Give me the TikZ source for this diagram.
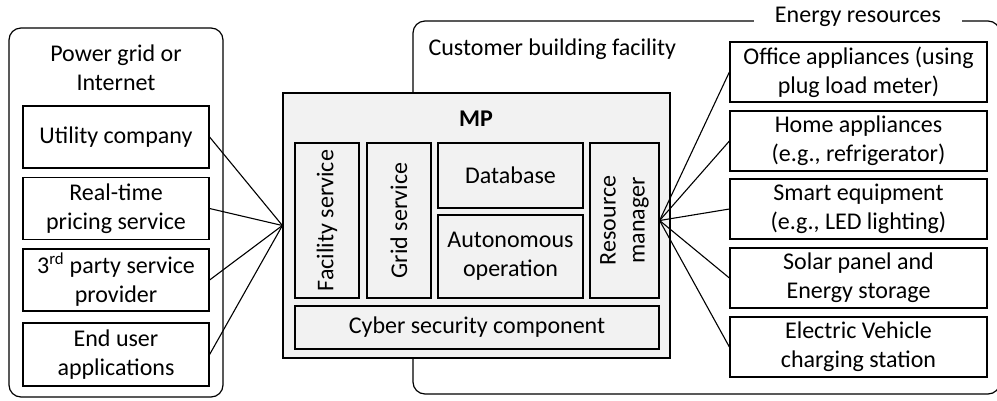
\documentclass[tikz,border=0pt]{standalone}
\usepackage{fontspec}
\setmainfont{Carlito}
\definecolor{panel}{HTML}{F2F2F2}
\begin{document}
\begin{tikzpicture}[x=1pt,y=-1pt,line width=1.2pt,
  font=\fontsize{24}{29}\selectfont,
  blk/.style={draw, fill=white, align=center, inner sep=0pt},
  inblk/.style={draw, fill=panel, align=center, inner sep=0pt},
  lbl/.style={inner sep=0pt, align=center},
  link/.style={line width=1.1pt}]
\useasboundingbox (0,0) rectangle (997,400);

% outer groups
\draw[rounded corners=12pt] (413,21) rectangle (1000,394);
\node[fill=white, inner xsep=21pt, inner ysep=1pt, anchor=base] (er) at (858,22) {Energy resources};
\node[lbl, anchor=base west] (cbf) at (428,55) {Customer building facility};

\draw[rounded corners=12pt] (9,28) rectangle (223,397);
\node[lbl] (pg) at (116,68) {Power grid or\\Internet};

% left column
\node[blk, minimum width=186pt, minimum height=62pt] (u1) at (116,137) {Utility company};
\node[blk, minimum width=186pt, minimum height=62pt] (u2) at (116,208.5) {Real-time\\pricing service};
\node[blk, minimum width=186pt, minimum height=62pt] (u3) at (116,280) {3\textsuperscript{rd} party service\\provider};
\node[blk, minimum width=186pt, minimum height=63pt] (u4) at (116,354.5) {End user\\applications};

% MP platform
\node[draw, fill=panel, minimum width=387pt, minimum height=265pt, inner sep=0pt] (mp) at (476.5,225.5) {};
\node[lbl, font=\fontsize{24}{29}\selectfont\bfseries, anchor=base] (mpt) at (476,126) {MP};
\node[inblk, minimum width=64pt, minimum height=155pt] (fs) at (327,220.5) {};
\node[lbl, rotate=90] at (fs.center) {Facility service};
\node[inblk, minimum width=64pt, minimum height=155pt] (gs) at (399,220.5) {};
\node[lbl, rotate=90] at (gs.center) {Grid service};
\node[inblk, minimum width=145pt, minimum height=65pt] (db) at (510.5,175.5) {Database};
\node[inblk, minimum width=145pt, minimum height=83pt] (ao) at (510.5,256.5) {Autonomous\\operation};
\node[inblk, minimum width=69pt, minimum height=155pt] (rm) at (624.5,220.5) {};
\node[lbl, rotate=90] at (rm.center) {Resource\\manager};
\node[inblk, minimum width=364pt, minimum height=43pt] (cs) at (477,327.5) {Cyber security component};

% energy resources
\node[blk, minimum width=257pt, minimum height=60pt] (r1) at (858.5,72) {Office appliances (using\\plug load meter)};
\node[blk, minimum width=257pt, minimum height=60pt] (r2) at (858.5,141) {Home appliances\\(e.g., refrigerator)};
\node[blk, minimum width=257pt, minimum height=60pt] (r3) at (858.5,209) {Smart equipment\\(e.g., LED lighting)};
\node[blk, minimum width=257pt, minimum height=60pt] (r4) at (858.5,278) {Solar panel and\\Energy storage};
\node[blk, minimum width=257pt, minimum height=60pt] (r5) at (858.5,347) {Electric Vehicle\\charging station};

% connectors
\foreach \n in {u1,u2,u3,u4} \draw[link] (mp.west) -- (\n.east);
\foreach \n in {r1,r2,r3,r4,r5} \draw[link] (rm.east) -- (\n.west);
\end{tikzpicture}
\end{document}
